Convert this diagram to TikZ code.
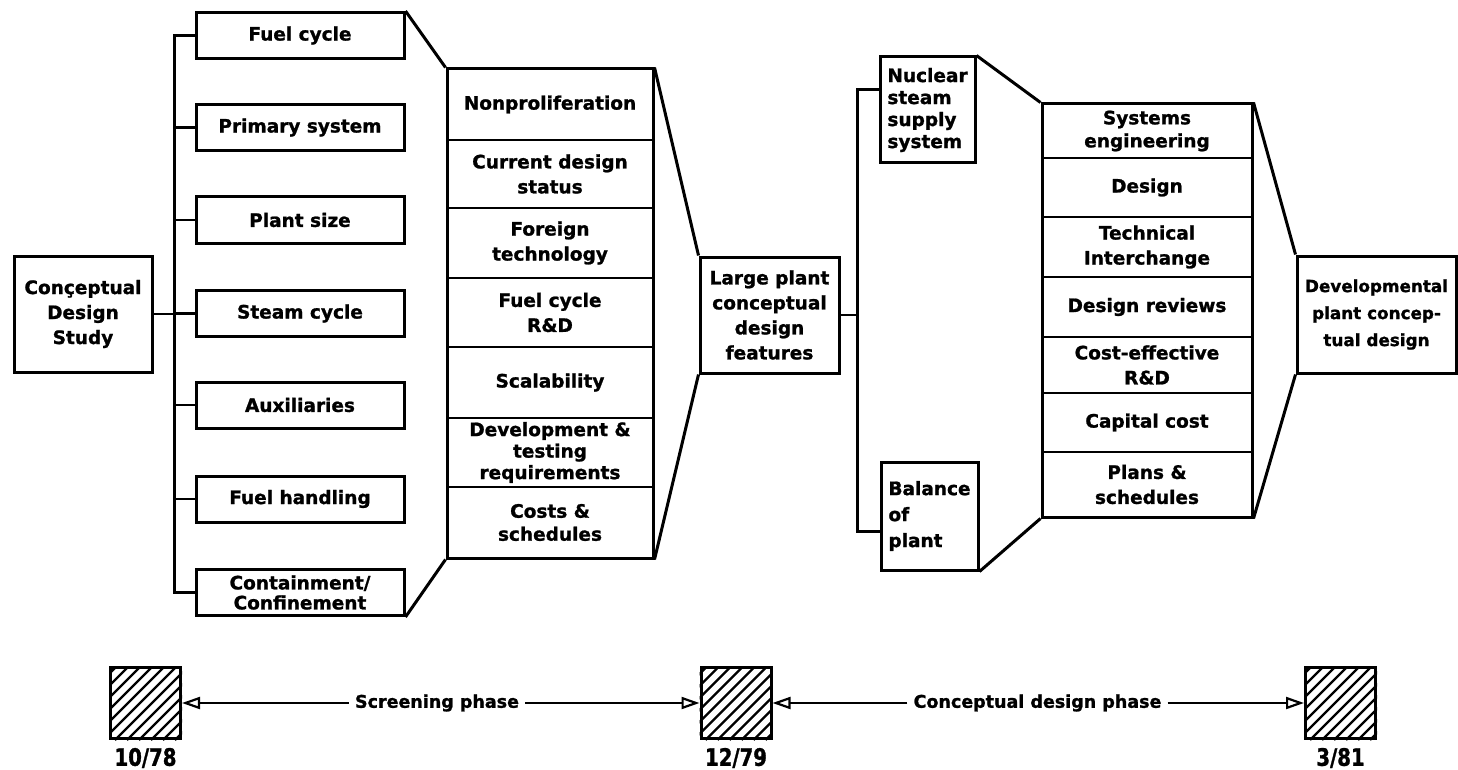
\documentclass[tikz,border=0pt]{standalone}
\usepackage{fontspec}
\newfontfamily\lab[BoldFeatures={FakeBold=1.2}]{DejaVu Sans}
\newfontfamily\datefont[FakeStretch=0.82,BoldFeatures={FakeBold=1.2}]{DejaVu Sans}
\usetikzlibrary{arrows.meta,calc}
\begin{document}
\begin{tikzpicture}[x=1pt,y=-1pt,
  txt/.style={font=\lab\bfseries\fontsize{18.5}{25}\selectfont},
  box/.style={draw,line width=3pt,inner sep=0pt,align=center,txt},
  lbox/.style={box,minimum width=208pt,minimum height=46pt},
  lbl/.style={inner sep=0pt,align=center,txt},
  stack/.style={draw,line width=3pt,inner sep=0pt},
  bus/.style={line width=3pt,line join=miter},
  stub/.style={line width=2.4pt},
  funnel/.style={line width=3pt},
  divider/.style={line width=2.2pt},
  hatchbox/.style={draw,line width=3pt,minimum width=70pt,minimum height=71pt,inner sep=0pt},
  hatch/.style={line width=2.2pt},
  ptext/.style={inner sep=6pt,font=\lab\bfseries\fontsize{17.5}{20}\selectfont},
  datetext/.style={inner sep=0pt,font=\datefont\bfseries\fontsize{24}{26}\selectfont},
  tline/.style={line width=2.2pt},
  tip/.style={-{Triangle[open,length=18pt,width=12pt,line width=2.2pt]}}
]
\useasboundingbox (0,0) rectangle (1458,770);

% ---------- left part ----------
\node[box,minimum width=138pt,minimum height=116pt] (cds) at (83,314) {Conçeptual\\Design\\Study};

\node[lbox] (fc) at (300,35.5) {Fuel cycle};
\node[lbox] (ps) at (300,127.5) {Primary system};
\node[lbox] (pz) at (300,220) {Plant size};
\node[lbox] (sc) at (300,313.5) {Steam cycle};
\node[lbox] (ax) at (300,405) {Auxiliaries};
\node[lbox] (fh) at (300,499) {Fuel handling};
\node[lbox,font=\lab\bfseries\fontsize{18.5}{20}\selectfont] (cc) at (300,592.5) {Containment/\\Confinement};

\coordinate (bl) at (174,0);
\draw[bus] (fc.west) -- (fc.west -| bl) -- (cc.west -| bl) -- (cc.west);
\foreach \n in {ps,pz,sc,ax,fh} \draw[stub] (\n.west -| bl) -- (\n.west);
\draw[stub] (cds.east) -- (cds.east -| bl);

% middle stack
\node[stack,minimum width=206pt,minimum height=489pt] (stL) at (550,313.5) {};
\foreach \y in {140,208,278,347,418,487} \draw[divider] (447,\y) -- (653,\y);
\node[lbl] (m1) at (550,104.5) {Nonproliferation};
\node[lbl] (m2) at (550,174) {Current design\\status};
\node[lbl] (m3) at (550,243) {Foreign\\technology};
\node[lbl] (m4) at (550,312.5) {Fuel cycle\\R\&D};
\node[lbl] (m5) at (550,382.5) {Scalability};
\node[lbl,font=\lab\bfseries\fontsize{18.5}{21.5}\selectfont] (m6) at (550,452.5) {Development \&\\testing\\requirements};
\node[lbl,font=\lab\bfseries\fontsize{18.5}{23}\selectfont] (m7) at (550,522.5) {Costs \&\\schedules};

\draw[funnel] (fc.north east) -- (stL.north west);
\draw[funnel] (cc.south east) -- (stL.south west);

\node[box,minimum width=139pt,minimum height=116pt] (lp) at (769.5,315) {Large plant\\conceptual\\design\\features};
\draw[funnel] (stL.north east) -- (lp.north west);
\draw[funnel] (lp.south west) -- (stL.south east);

% ---------- right part ----------
\node[box,align=left,minimum width=95pt,minimum height=106pt,font=\lab\bfseries\fontsize{18.5}{22}\selectfont] (nss) at (927.5,110) {Nuclear\\steam\\supply\\system};
\node[box,align=left,minimum width=97pt,minimum height=108pt,font=\lab\bfseries\fontsize{18.5}{26}\selectfont] (bop) at (929.5,516) {Balance\\of\\plant};

\coordinate (br) at (857,0);
\coordinate (nssc) at ($(nss.north west)+(0,34)$);
\coordinate (bopc) at ($(bop.south west)+(0,-40)$);
\draw[bus] (nssc) -- (nssc -| br) -- (bopc -| br) -- (bopc);
\draw[stub] (lp.east) -- (lp.east -| br);

\node[stack,minimum width=210pt,minimum height=413pt] (stR) at (1147,310.5) {};
\foreach \y in {158,217,277,337,393,452} \draw[divider] (1042,\y) -- (1252,\y);
\node[lbl,font=\lab\bfseries\fontsize{18.5}{23}\selectfont] (r1) at (1147,131) {Systems\\engineering};
\node[lbl] (r2) at (1147,187.5) {Design};
\node[lbl] (r3) at (1147,247) {Technical\\Interchange};
\node[lbl] (r4) at (1147,307) {Design reviews};
\node[lbl] (r5) at (1147,365) {Cost-effective\\R\&D};
\node[lbl] (r6) at (1147,422.5) {Capital cost};
\node[lbl] (r7) at (1147,484.5) {Plans \&\\schedules};

\draw[funnel] (nss.north east) -- (stR.north west);
\draw[funnel] (bop.south east) -- (stR.south west);

\node[box,minimum width=159pt,minimum height=117pt,font=\lab\bfseries\fontsize{16.8}{27}\selectfont] (dv) at (1376.5,314.5) {Developmental\\plant concep-\\tual design};
\draw[funnel] (stR.north east) -- (dv.north west);
\draw[funnel] (dv.south west) -- (stR.south east);

% ---------- timeline ----------
\node[hatchbox] (t1) at (145.5,703) {};
\node[hatchbox] (t2) at (736,703) {};
\node[hatchbox] (t3) at (1340.5,703) {};
\foreach \b in {t1,t2,t3} {
  \begin{scope}
    \clip (\b.south west) rectangle (\b.north east);
    \foreach \k in {-78,-66,...,78}
      \draw[hatch] ($(\b.south west)+(\k,0)$) -- ++(80,-80);
  \end{scope}
}
\node[datetext] (d1) at (145.5,758) {10/78};
\node[datetext] (d2) at (736,758) {12/79};
\node[datetext] (d3) at (1340.5,758) {3/81};

\node[ptext] (sp) at (437,703) {Screening phase};
\node[ptext] (cp) at (1037.5,703) {Conceptual design phase};
\draw[tline,tip] (sp.west) -- (t1.east);
\draw[tline,tip] (sp.east) -- (t2.west);
\draw[tline,tip] (cp.west) -- (t2.east);
\draw[tline,tip] (cp.east) -- (t3.west);
\end{tikzpicture}
\end{document}
